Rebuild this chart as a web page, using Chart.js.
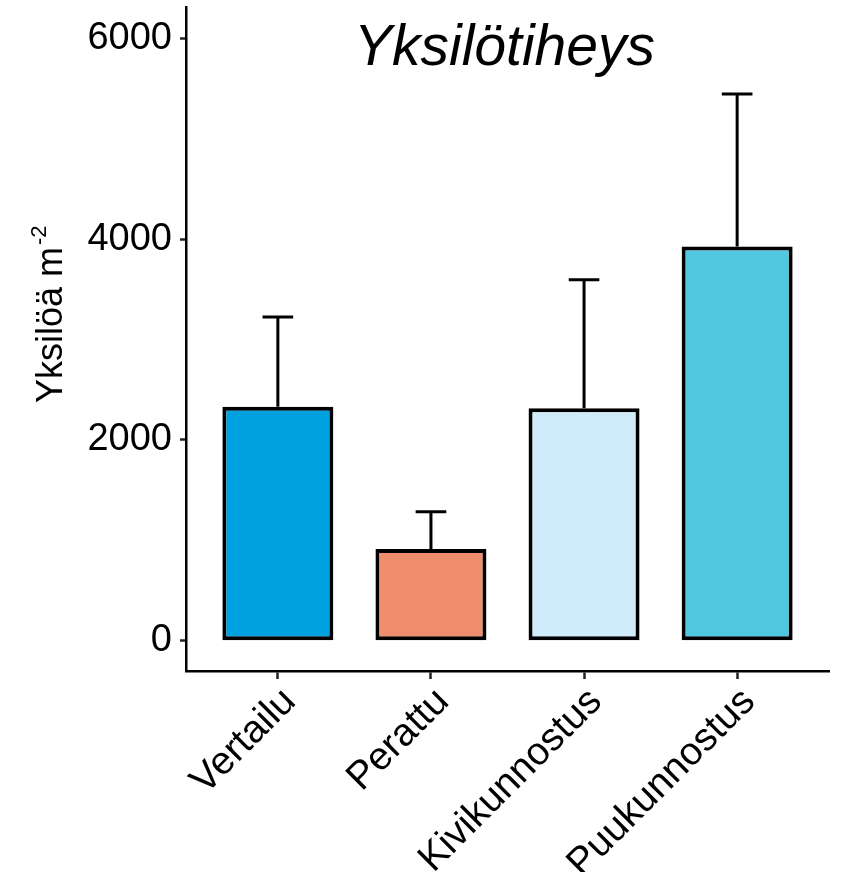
<!DOCTYPE html>
<html><head><meta charset="utf-8">
<script src="https://cdn.jsdelivr.net/npm/chart.js@4.4.1/dist/chart.umd.min.js"></script>
<style>html,body{margin:0;padding:0;background:#fff}</style>
</head><body>
<canvas id="c" width="841" height="872"></canvas>
<script>
const categories = ['Vertailu', 'Perattu', 'Kivikunnostus', 'Puukunnostus'];
const meanValues = [2330, 915, 2315, 3925];
const errorUpper = [895, 370, 1280, 1520];
const barColors = ['#00A1DF', '#F08D6C', '#D0EBFA', '#50C8E0'];
const yTickValues = [0, 2000, 4000, 6000];
const titleText = 'Yksilötiheys';
const yTitleText = 'Yksilöä m';
const yTitleSup = '-2';

const FONT = '"Liberation Sans", Arial, sans-serif';

const errorBarPlugin = {
  id: 'errorBars',
  afterDatasetsDraw(chart) {
    const ctx = chart.ctx, xs = chart.scales.x, ys = chart.scales.y;
    ctx.save();
    ctx.strokeStyle = '#000';
    ctx.lineWidth = 3;
    ctx.lineCap = 'butt';
    meanValues.forEach((m, i) => {
      const x = xs.getPixelForValue(i);
      const y0 = ys.getPixelForValue(m);
      const y1 = ys.getPixelForValue(m + errorUpper[i]);
      const half = (xs.getPixelForValue(1) - xs.getPixelForValue(0)) * 0.1;
      ctx.beginPath();
      ctx.moveTo(x, y0); ctx.lineTo(x, y1);
      ctx.moveTo(x - half, y1); ctx.lineTo(x + half, y1);
      ctx.stroke();
    });
    ctx.restore();
  }
};

const textPlugin = {
  id: 'texts',
  afterDraw(chart) {
    const ctx = chart.ctx, a = chart.chartArea;
    ctx.save();
    ctx.fillStyle = '#000';
    ctx.font = 'italic 57px ' + FONT;
    ctx.textAlign = 'center';
    ctx.textBaseline = 'alphabetic';
    ctx.fillText(titleText, (a.left + a.right) / 2 - 3, 65);
    ctx.restore();

    ctx.save();
    ctx.fillStyle = '#000';
    ctx.translate(62, 403);
    ctx.rotate(-Math.PI / 2);
    ctx.font = '36px ' + FONT;
    ctx.textAlign = 'left';
    ctx.textBaseline = 'alphabetic';
    ctx.fillText(yTitleText, 0, 0);
    const w = ctx.measureText(yTitleText).width;
    ctx.font = '22px ' + FONT;
    ctx.fillText(yTitleSup, w + 2, -16);
    ctx.restore();
  }
};

new Chart(document.getElementById('c'), {
  type: 'bar',
  data: {
    datasets: [{
      data: meanValues.map((v, i) => ({ x: i, y: v })),
      backgroundColor: barColors,
      borderColor: '#000',
      borderWidth: 4,
      borderSkipped: false,
      categoryPercentage: 1,
      barPercentage: 0.725
    }]
  },
  options: {
    responsive: false,
    animation: false,
    events: [],
    layout: { padding: { top: 7, right: 12, left: 0, bottom: 0 } },
    plugins: { legend: { display: false }, tooltip: { enabled: false }, title: { display: false } },
    scales: {
      x: {
        type: 'linear',
        offset: false,
        min: -0.6, max: 3.6,
        afterBuildTicks(s) { s.ticks = categories.map((c, i) => ({ value: i })); },
        afterFit(s) { s.height = 201; s.paddingLeft = 0; s.paddingRight = 0; },
        ticks: {
          autoSkip: false,
          maxRotation: 45, minRotation: 45,
          padding: 0,
          labelOffset: 12,
          color: '#000',
          font: { family: FONT, size: 39 },
          callback: (v) => categories[v] !== undefined ? categories[v] : ''
        },
        grid: { offset: false, drawOnChartArea: false, drawTicks: true, tickLength: 8, tickColor: '#222', tickWidth: 2.5 },
        border: { display: true, color: '#000', width: 2.5 }
      },
      y: {
        min: -300, max: 6310,
        afterBuildTicks(s) { s.ticks = yTickValues.map(v => ({ value: v })); },
        afterFit(s) { s.width = 186; s.paddingTop = 0; s.paddingBottom = 0; },
        ticks: {
          padding: 8,
          color: '#000',
          font: { family: FONT, size: 38 },
          callback: (v) => String(v)
        },
        grid: { drawOnChartArea: false, drawTicks: true, tickLength: 6, tickColor: '#222', tickWidth: 2.5 },
        border: { display: true, color: '#000', width: 2.5 }
      }
    }
  },
  plugins: [errorBarPlugin, textPlugin]
});
</script>
</body></html>
